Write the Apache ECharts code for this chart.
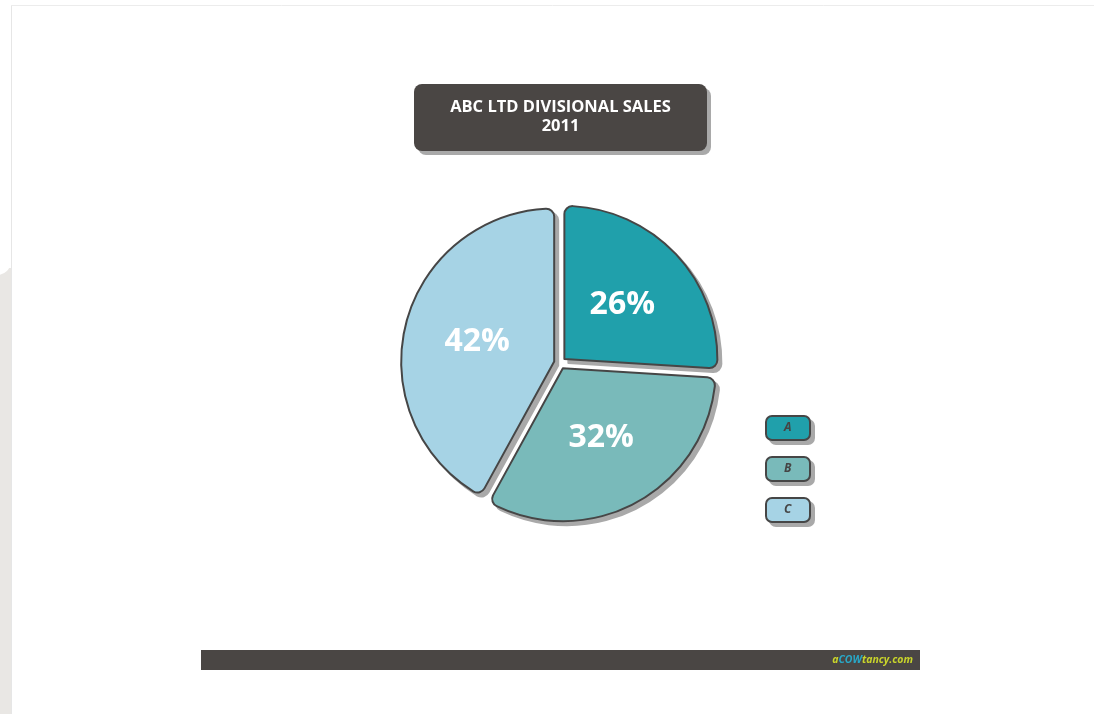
<!DOCTYPE html>
<html>
<head>
<meta charset="utf-8">
<style>
  html, body { margin: 0; padding: 0; background: #ffffff; }
  #chart { width: 1094px; height: 714px; }
</style>
<script src="https://cdn.jsdelivr.net/npm/echarts@6/dist/echarts.min.js"></script>
</head>
<body>
<div id="chart"></div>
<script>
// ---- data ----
const titleLines = ['ABC LTD DIVISIONAL SALES', '2011'];
const categories = ['A', 'B', 'C'];
const values = [26, 32, 42];
const colors = ['#20a0ab', '#79baba', '#a6d3e5'];
const brand = ['a', 'COW', 'tancy.com'];

const chart = echarts.init(document.getElementById('chart'), null, { renderer: 'canvas' });

const shadowGray = '#a9a9a9';
const borderDark = '#464646';
const pieCenter = [560, 363];
const pieRadius = 153;
const shadowShift = 4;

const legendBase = {
  orient: 'vertical',
  padding: 0,
  itemWidth: 44,
  itemHeight: 24,
  itemGap: 15,
  icon: 'roundRect',
  selectedMode: false,
  data: categories
};

const option = {
  backgroundColor: '#ffffff',
  animation: false,
  graphic: [
    // page frame
    { type: 'rect', silent: true, z: -10, shape: { x: 0, y: 268, width: 12, height: 446 }, style: { fill: '#e9e7e4' } },
    { type: 'rect', silent: true, z: -9, shape: { x: -20, y: 0, width: 31, height: 275, r: [0, 0, 14, 0] }, style: { fill: '#ffffff' } },
    { type: 'line', silent: true, z: -8, shape: { x1: 11.5, y1: 5, x2: 11.5, y2: 714 }, style: { stroke: '#e6e6e6', lineWidth: 1 } },
    { type: 'line', silent: true, z: -8, shape: { x1: 11, y1: 5.5, x2: 1094, y2: 5.5 }, style: { stroke: '#ececec', lineWidth: 1 } },
    // title box (shadow + box)
    { type: 'rect', z: 9, shape: { x: 418, y: 88, width: 293, height: 67, r: 8 }, style: { fill: shadowGray } },
    { type: 'rect', z: 10, shape: { x: 414, y: 84, width: 293, height: 67, r: 8 }, style: { fill: '#4a4644' } },
    { type: 'text', z: 11, x: 560.5, y: 117,
      style: { text: titleLines.join('\n'), fill: '#ffffff', align: 'center', verticalAlign: 'middle',
               font: 'bold 16.5px "Open Sans"', lineHeight: 19 } },
    // footer bar
    { type: 'rect', z: 10, shape: { x: 201, y: 650, width: 719, height: 20 }, style: { fill: '#4a4644' } },
    { type: 'text', z: 11, x: 913, y: 660,
      style: { text: '{y|' + brand[0] + '}{b|' + brand[1] + '}{y|' + brand[2] + '}', align: 'right', verticalAlign: 'middle',
               rich: {
                 y: { fill: '#c9d42b', font: 'italic bold 10.5px "Open Sans"' },
                 b: { fill: '#29a8c8', font: 'italic bold 10.5px "Open Sans"' }
               } } }
  ],
  legend: [Object.assign({}, legendBase, {
    left: 765,
    top: 415,
    z: 5,
    itemStyle: { borderColor: borderDark, borderWidth: 2 },
    textStyle: { color: '#454545', fontFamily: 'Open Sans', fontWeight: 'bold', fontStyle: 'italic', fontSize: 12,
                 padding: [0, 0, 0, -31] }
  }), Object.assign({}, legendBase, {
    // legend shadow
    left: 765 + shadowShift,
    top: 415 + shadowShift,
    z: 4,
    itemStyle: { color: shadowGray, borderColor: shadowGray, borderWidth: 2 },
    textStyle: { color: 'rgba(0,0,0,0)', fontSize: 12 }
  })],
  series: [{
    type: 'pie',
    z: 3,
    center: pieCenter,
    radius: [0, pieRadius],
    startAngle: 90,
    clockwise: true,
    selectedMode: 'multiple',
    selectedOffset: 6,
    emphasis: { disabled: true },
    label: {
      show: true,
      position: 'inside',
      formatter: '{c}%',
      color: '#ffffff',
      fontFamily: 'Open Sans',
      fontWeight: 'bold',
      fontSize: 32,
      textBorderWidth: 0
    },
    labelLine: { show: false },
    itemStyle: { borderColor: borderDark, borderWidth: 2, borderRadius: 8 },
    data: categories.map((c, i) => ({ name: c, value: values[i], selected: true, itemStyle: { color: colors[i] } }))
  }, {
    // drop shadow of the pie
    type: 'pie',
    z: 2,
    silent: true,
    legendHoverLink: false,
    center: [pieCenter[0] + shadowShift, pieCenter[1] + shadowShift],
    radius: [0, pieRadius],
    startAngle: 90,
    clockwise: true,
    selectedMode: 'multiple',
    selectedOffset: 6,
    emphasis: { disabled: true },
    label: { show: false },
    labelLine: { show: false },
    itemStyle: { color: shadowGray, borderColor: shadowGray, borderWidth: 2, borderRadius: 8 },
    data: categories.map((c, i) => ({ name: c, value: values[i], selected: true }))
  }]
};
chart.setOption(option);
</script>
</body>
</html>
